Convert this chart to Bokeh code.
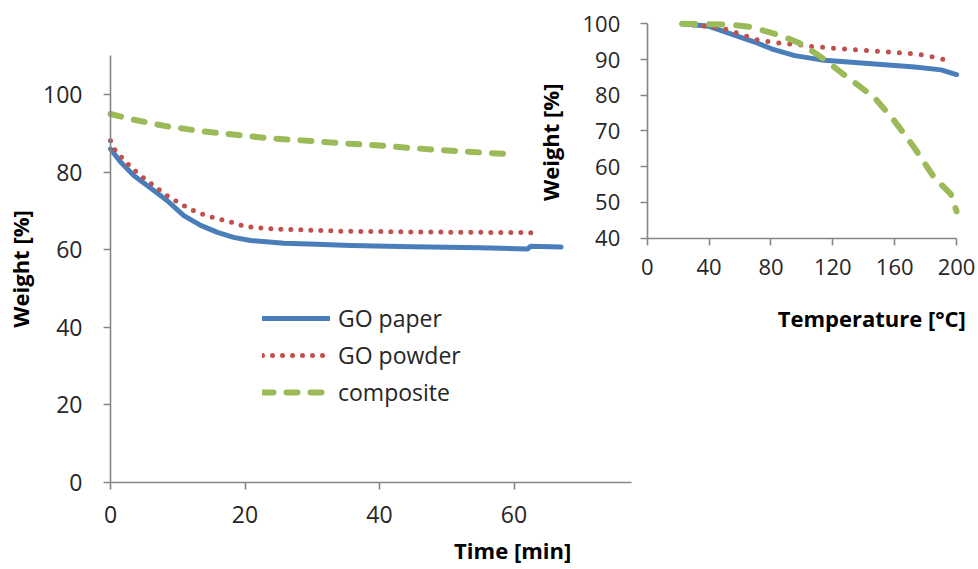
import math
from bokeh.plotting import figure
from bokeh.models import Range1d, LinearAxis, FixedTicker, Legend, LegendItem, Label
from bokeh.embed import file_html
from bokeh.resources import INLINE

# ---- main chart data: weight loss over time ----
t_paper = [0, 1.5, 3.5, 5.9, 8.4, 10.9, 13.4, 15.9, 18.3, 20.8, 25.8, 30.7, 35.7, 45, 55, 62, 62.5, 67]
w_paper = [86.0, 82.6, 79.1, 76.0, 72.7, 68.8, 66.3, 64.5, 63.2, 62.4, 61.7, 61.4, 61.1, 60.8, 60.5, 60.2, 60.9, 60.7]

t_powder = [0, 0.7, 2, 3.2, 4.5, 5.8, 7.2, 8.6, 10, 11.5, 13.1, 14.7, 16.4, 18, 19.5, 21, 23.8, 27.3, 34.2, 45, 55, 63.5]
w_powder = [88.1, 85.6, 83.2, 81.0, 79.1, 77.4, 75.5, 73.7, 72.3, 70.8, 69.5, 68.6, 67.8, 67.1, 66.3, 65.8, 65.4, 65.2, 64.8, 64.6, 64.5, 64.4]

t_comp = [0, 3.5, 8.4, 13.4, 18.3, 23.3, 28.3, 35.7, 38.2, 48.1, 59.7]
w_comp = [95.0, 93.5, 91.8, 90.6, 89.7, 88.8, 88.2, 87.3, 87.1, 85.8, 84.6]

# ---- inset data: weight vs temperature ----
T_paper = [22.6, 40, 54, 69.5, 80.3, 95.4, 112.6, 129.9, 151.5, 173, 190, 200]
W_paper = [100, 99.3, 97.2, 94.9, 93.0, 91.1, 89.9, 89.3, 88.6, 87.9, 87.1, 85.8]

T_powder = [22.6, 48.8, 61.7, 70.4, 76.8, 85.5, 96.3, 107, 120, 137, 157, 174, 189, 197]
W_powder = [100, 98.8, 96.9, 95.6, 95.1, 94.6, 94.2, 93.6, 93.2, 92.7, 92.1, 91.6, 90.4, 89.2]

T_comp = [22.6, 54, 67, 86.5, 99.4, 112.3, 129.6, 146.8, 159.7, 172.6, 185.5, 196.3, 200]
W_comp = [100, 99.8, 99.1, 96.7, 94.4, 90.7, 85.0, 79.4, 72.9, 65.4, 57.0, 52.3, 47.5]

series_labels = ["GO paper", "GO powder", "composite"]
main_x_ticks = [0, 20, 40, 60]
main_y_ticks = [0, 20, 40, 60, 80, 100]
inset_x_ticks = [0, 40, 80, 120, 160, 200]
inset_y_ticks = [40, 50, 60, 70, 80, 90, 100]

BLUE = "#4A7EBB"
RED = "#C0504D"
GREEN = "#9BBB59"
AXIS = "#868686"
FONT = "Open Sans"

# The frame spans the whole canvas; every axis is drawn at a fixed data location.
p = figure(width=978, height=569, output_backend="svg", toolbar_location=None,
           x_range=Range1d(-16.36, 129.07), y_range=Range1d(-22.4, 124.25),
           x_axis_location=None, y_axis_location=None,
           min_border_left=0, min_border_right=0, min_border_top=0, min_border_bottom=0)
p.extra_x_ranges = {"tx": Range1d(-418.2, 214.2)}
p.extra_y_ranges = {"ty": Range1d(-52.73, 106.52)}
p.outline_line_color = None
p.background_fill_color = "white"
p.border_fill_color = "white"
p.grid.visible = False


def style_axis(ax, size, standoff):
    ax.axis_line_color = AXIS
    ax.axis_line_width = 1.6
    ax.major_tick_line_color = AXIS
    ax.major_tick_line_width = 1.6
    ax.major_tick_out = 7
    ax.major_tick_in = 0
    ax.minor_tick_line_color = None
    ax.major_label_text_font = FONT
    ax.major_label_text_font_size = size
    ax.major_label_text_color = "#262626"
    ax.major_label_standoff = standoff


xa = LinearAxis(fixed_location=0, bounds=(0, 77.5), ticker=FixedTicker(ticks=main_x_ticks))
ya = LinearAxis(fixed_location=0, bounds=(0, 110), ticker=FixedTicker(ticks=main_y_ticks))
style_axis(xa, "23px", 16)
style_axis(ya, "23px", 21)
ya.axis_label = "Weight [%]"
ya.axis_label_text_font = FONT
ya.axis_label_text_font_style = "bold"
ya.axis_label_text_font_size = "22px"
ya.axis_label_text_color = "black"
ya.axis_label_standoff = 5
p.add_layout(xa, "below")
p.add_layout(ya, "left")

ixa = LinearAxis(x_range_name="tx", y_range_name="ty", fixed_location=40,
                 bounds=(0, 200), ticker=FixedTicker(ticks=inset_x_ticks))
iya = LinearAxis(x_range_name="tx", y_range_name="ty", fixed_location=0,
                 bounds=(40, 100), ticker=FixedTicker(ticks=inset_y_ticks))
style_axis(ixa, "22px", 14)
style_axis(iya, "22px", 20)
p.add_layout(ixa, "below")
p.add_layout(iya, "left")

# main lines
r1 = p.line(t_paper, w_paper, line_color=BLUE, line_width=5, line_cap="round", line_join="round")
r2 = p.line(t_powder, w_powder, line_color=RED, line_width=5, line_dash="0 10", line_cap="round")
r3 = p.line(t_comp, w_comp, line_color=GREEN, line_width=6, line_dash="11 13", line_cap="round")

# inset lines
p.line(T_paper, W_paper, x_range_name="tx", y_range_name="ty", line_color=BLUE, line_width=5,
       line_cap="round", line_join="round")
p.line(T_powder, W_powder, x_range_name="tx", y_range_name="ty", line_color=RED, line_width=5,
       line_dash="0 11", line_cap="round")
p.line(T_comp, W_comp, x_range_name="tx", y_range_name="ty", line_color=GREEN, line_width=6,
       line_dash="13 14", line_cap="round")

legend = Legend(items=[LegendItem(label=series_labels[0], renderers=[r1]),
                       LegendItem(label=series_labels[1], renderers=[r2]),
                       LegendItem(label=series_labels[2], renderers=[r3])],
                location=(262, 161), orientation="vertical", padding=0, margin=0, spacing=5,
                glyph_width=68, glyph_height=28, label_standoff=8,
                border_line_color=None, background_fill_alpha=0,
                label_text_font=FONT, label_text_font_size="23px", label_text_color="#262626")
p.add_layout(legend)

p.add_layout(Label(x=59.8, y=-17.4, text="Time [min]", text_align="center", text_baseline="middle",
                   text_font=FONT, text_font_style="bold", text_font_size="22px", text_color="black"))
p.add_layout(Label(x=113.2, y=42.3, text="Temperature [°C]", text_align="center", text_baseline="middle",
                   text_font=FONT, text_font_style="bold", text_font_size="22px", text_color="black"))
p.add_layout(Label(x=65.4, y=87.7, text="Weight [%]", angle=math.pi / 2, text_align="center",
                   text_baseline="middle", text_font=FONT, text_font_style="bold",
                   text_font_size="22px", text_color="black"))

open("out.html", "w").write(file_html(p, INLINE))
